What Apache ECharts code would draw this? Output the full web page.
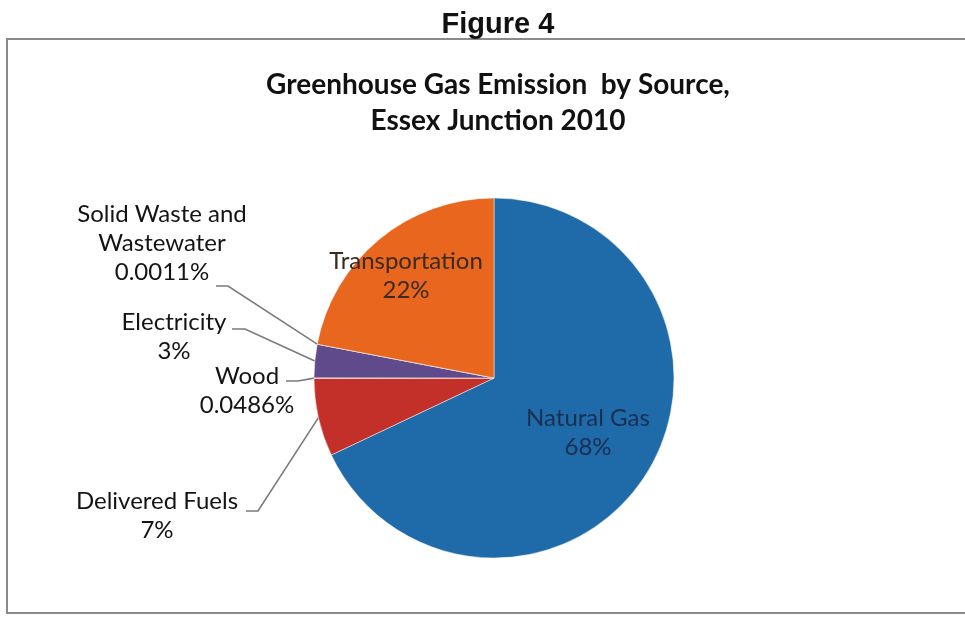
<!DOCTYPE html>
<html>
<head>
<meta charset="utf-8">
<script src="https://cdn.jsdelivr.net/npm/echarts@6/dist/echarts.min.js"></script>
<style>html,body{margin:0;padding:0;background:#fff}#c{width:965px;height:618px}</style>
</head>
<body>
<div id="c"></div>
<script>
const categories = ['Natural Gas', 'Delivered Fuels', 'Wood', 'Electricity', 'Solid Waste and\nWastewater', 'Transportation'];
const values = [68, 7, 0.0486, 3, 0.0011, 22];
const percentLabels = ['68%', '7%', '0.0486%', '3%', '0.0011%', '22%'];
const colors = ['#1f6aa8', '#c3302a', '#c3302a', '#5f4a8b', '#ff9f40', '#e8661e'];

// label placement (pixels, for label text only)
const labelPlace = [
  {x: 588, y: 433},
  {x: 157, y: 516, knee: [258, 511], end: [246, 511]},
  {x: 247, y: 391, knee: [298, 381], end: [286, 381]},
  {x: 174, y: 337, knee: [245, 329], end: [232, 329]},
  {x: 162, y: 243, knee: [228, 286], end: [216, 286]},
  {x: 406, y: 276}
];
const insideIdx = [0, 5];

const chart = echarts.init(document.getElementById('c'), null, {renderer: 'canvas'});
const data = categories.map((n, i) => {
  const inside = insideIdx.indexOf(i) >= 0;
  return {
    name: n,
    value: values[i],
    itemStyle: {color: colors[i]},
    label: {
      position: inside ? 'inside' : 'outside',
      color: i === 0 ? '#1b2f52' : (inside ? '#3a2a20' : '#141414')
    },
    labelLine: {show: !inside}
  };
});

chart.setOption({
  animation: false,
  title: [
    {text: 'Figure 4', left: 493, top: 5, textAlign: 'center',
     textStyle: {fontFamily: 'Liberation Sans', fontWeight: 'bold', fontSize: 29, color: '#111'}},
    {text: 'Greenhouse Gas Emission  by Source,\nEssex Junction 2010', left: 493, top: 62, textAlign: 'center',
     textStyle: {fontFamily: 'Lato', fontWeight: 'bold', fontSize: 28, lineHeight: 36, color: '#111'}}
  ],
  graphic: [
    {type: 'rect', shape: {x: 7, y: 39, width: 980, height: 574},
     style: {fill: 'none', stroke: '#8a8a8a', lineWidth: 2}, silent: true}
  ],
  series: [{
    type: 'pie',
    center: [494, 378],
    radius: 180,
    startAngle: 90,
    clockwise: true,
    minAngle: 0,
    avoidLabelOverlap: false,
    itemStyle: {borderColor: 'rgba(255,255,255,0.6)', borderWidth: 0.8},
    label: {
      fontFamily: 'Lato', fontSize: 24, lineHeight: 29, align: 'center',
      formatter: p => p.name + '\n' + percentLabels[p.dataIndex]
    },
    labelLine: {lineStyle: {color: '#7a7a7a', width: 1.6}, length: 10, length2: 10},
    labelLayout: function (params) {
      const pl = labelPlace[params.dataIndex];
      const res = {x: pl.x, y: pl.y, align: 'center', verticalAlign: 'middle'};
      if (pl.knee && params.labelLinePoints) {
        res.labelLinePoints = [params.labelLinePoints[0], pl.knee, pl.end];
      }
      return res;
    },
    data: data
  }]
});
</script>
</body>
</html>
